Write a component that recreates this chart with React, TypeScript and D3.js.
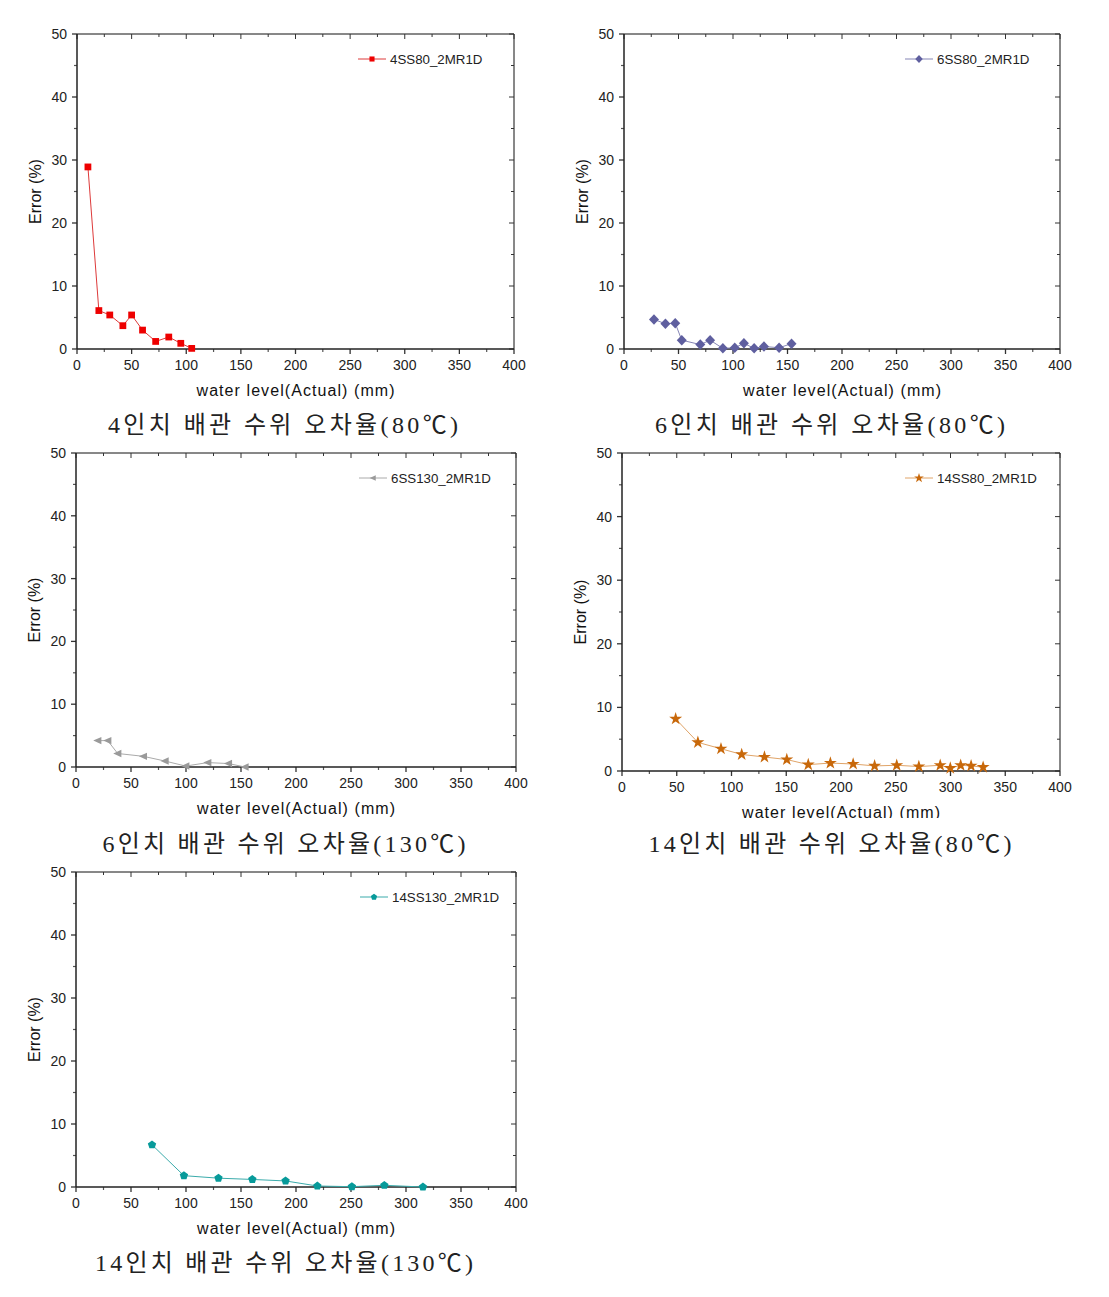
import React from "react";
import * as d3 from "d3";

// ---------- data ----------
const xTicks = [0, 50, 100, 150, 200, 250, 300, 350, 400];
const yTicks = [0, 10, 20, 30, 40, 50];

const s1x = [10, 20, 30, 42, 50, 60, 72, 84, 95, 105];
const s1y = [28.9, 6.1, 5.4, 3.7, 5.4, 3.0, 1.2, 1.9, 0.9, 0.1];

const s2x = [27.5, 38, 47, 53, 70, 79, 90.7, 101.6, 110, 119.4, 128.4, 142.3, 153.7];
const s2y = [4.7, 4.0, 4.1, 1.4, 0.7, 1.4, 0.1, 0.2, 0.9, 0.1, 0.4, 0.2, 0.85];

const s3x = [19.7, 28.8, 37.9, 61.2, 80.9, 99.7, 119.7, 138.5, 153.6];
const s3y = [4.2, 4.2, 2.15, 1.7, 0.95, 0.15, 0.7, 0.55, 0.0];

const s4x = [49, 69.3, 90.4, 109.3, 130.1, 150.5, 170.1, 190.3, 211.1, 230.7, 250.9, 271.1, 290.6, 299.8, 309.3, 318.8, 329.8];
const s4y = [8.2, 4.5, 3.5, 2.6, 2.2, 1.8, 1.0, 1.25, 1.1, 0.8, 0.9, 0.7, 0.9, 0.45, 0.9, 0.8, 0.6];

const s5x = [69.1, 98.1, 129.5, 160.3, 190.5, 219.4, 250.8, 280.3, 315.4];
const s5y = [6.7, 1.8, 1.4, 1.2, 0.96, 0.16, 0.05, 0.27, 0.0];

const seriesNames = ["4SS80_2MR1D", "6SS80_2MR1D", "6SS130_2MR1D", "14SS80_2MR1D", "14SS130_2MR1D"];
const captions = [
  "4인치 배관 수위 오차율(80℃)",
  "6인치 배관 수위 오차율(80℃)",
  "6인치 배관 수위 오차율(130℃)",
  "14인치 배관 수위 오차율(80℃)",
  "14인치 배관 수위 오차율(130℃)",
];
const xTitle = "water level(Actual) (mm)";
const yTitle = "Error (%)";

// ---------- symbols ----------
const pentagon = {
  draw(ctx: any, size: number) {
    const r = Math.sqrt(size / 2.378);
    for (let i = 0; i < 5; i++) {
      const a = -Math.PI / 2 + (i * 2 * Math.PI) / 5;
      const px = r * Math.cos(a);
      const py = r * Math.sin(a);
      if (i === 0) ctx.moveTo(px, py);
      else ctx.lineTo(px, py);
    }
    ctx.closePath();
  },
};
const leftTriangle = {
  draw(ctx: any, size: number) {
    const h = Math.sqrt(size) * 1.1;
    ctx.moveTo(-h * 0.6, 0);
    ctx.lineTo(h * 0.5, -h * 0.5);
    ctx.lineTo(h * 0.5, h * 0.5);
    ctx.closePath();
  },
};
const rhombus = {
  draw(ctx: any, size: number) {
    const r = Math.sqrt(size / 2) * 1.0;
    ctx.moveTo(0, -r * 1.05);
    ctx.lineTo(r, 0);
    ctx.lineTo(0, r * 1.05);
    ctx.lineTo(-r, 0);
    ctx.closePath();
  },
};

type Cfg = {
  xs: number[];
  ys: number[];
  name: string;
  caption: string;
  left: number;
  right: number;
  top: number;
  bottom: number;
  sym: any;
  symSize: number;
  mark: string;
  line: string;
  legX: number;
  capY: number;
  capW: number;
  capX: number;
  clipTitle?: number;
};

const panels: Cfg[] = [
  { xs: s1x, ys: s1y, name: seriesNames[0], caption: captions[0], left: 77, right: 514, top: 34, bottom: 349, sym: d3.symbolSquare, symSize: 46, mark: "#ee0000", line: "#dd3a3a", legX: 358, capY: 433, capW: 350, capX: 283 },
  { xs: s2x, ys: s2y, name: seriesNames[1], caption: captions[1], left: 624, right: 1060, top: 34, bottom: 349, sym: rhombus, symSize: 50, mark: "#5f5f9f", line: "#8585b5", legX: 905, capY: 433, capW: 350, capX: 830 },
  { xs: s3x, ys: s3y, name: seriesNames[2], caption: captions[2], left: 76, right: 516, top: 453, bottom: 767, sym: leftTriangle, symSize: 45, mark: "#9a9a9a", line: "#aaaaaa", legX: 359, capY: 852, capW: 363, capX: 284 },
  { xs: s4x, ys: s4y, name: seriesNames[3], caption: captions[3], left: 622, right: 1060, top: 453, bottom: 771, sym: d3.symbolStar, symSize: 52, mark: "#c8680a", line: "#e0a468", legX: 905, capY: 852, capW: 363, capX: 830, clipTitle: 818 },
  { xs: s5x, ys: s5y, name: seriesNames[4], caption: captions[4], left: 76, right: 516, top: 872, bottom: 1187, sym: pentagon, symSize: 46, mark: "#079a9a", line: "#3aabab", legX: 360, capY: 1271, capW: 378, capX: 284 },
];

const sans = "'Liberation Sans', Arial, sans-serif";
const capFont = "'Liberation Serif', 'Noto Sans CJK KR', serif";

function Panel({ c, idx }: { c: Cfg; idx: number }) {
  const x = d3.scaleLinear().domain([0, 400]).range([c.left, c.right]);
  const y = d3.scaleLinear().domain([0, 50]).range([c.bottom, c.top]);
  const lineGen = d3.line<number>().x((_, i) => x(c.xs[i])).y((d) => y(d));
  const symPath = d3.symbol().type(c.sym).size(c.symSize)() as string;
  const xMinor = d3.range(25, 400, 50);
  const yMinor = d3.range(5, 50, 10);
  const xAll = d3.range(0, 401, 25);
  const yAll = d3.range(0, 51, 5);
  const legY = c.top + 25;
  const clipId = `clip${idx}`;
  return (
    <g>
      {/* frame */}
      <line x1={c.left} x2={c.right} y1={c.top} y2={c.top} stroke="#111" strokeWidth={1} />
      <line x1={c.right} x2={c.right} y1={c.top} y2={c.bottom} stroke="#111" strokeWidth={1} />
      {/* top & right inward ticks */}
      {xAll.map((v) => (
        <line key={"tt" + v} x1={x(v)} x2={x(v)} y1={c.top} y2={c.top + (v % 50 === 0 ? 5 : 3)} stroke="#333" strokeWidth={1} />
      ))}
      {yAll.map((v) => (
        <line key={"rt" + v} x1={c.right} x2={c.right - (v % 10 === 0 ? 5 : 3)} y1={y(v)} y2={y(v)} stroke="#333" strokeWidth={1} />
      ))}
      {/* bottom axis */}
      {xTicks.map((v) => (
        <g key={"xb" + v}>
          <line x1={x(v)} x2={x(v)} y1={c.bottom} y2={c.bottom + 5} stroke="#333" strokeWidth={1.3} />
          <text x={x(v)} y={c.bottom + 21} fontFamily={sans} fontSize={14} fill="#222" textAnchor="middle">{v}</text>
        </g>
      ))}
      {xMinor.map((v) => (
        <line key={"xm" + v} x1={x(v)} x2={x(v)} y1={c.bottom} y2={c.bottom + 3} stroke="#555" strokeWidth={1.2} />
      ))}
      {/* left axis */}
      {yTicks.map((v) => (
        <g key={"yl" + v}>
          <line x1={c.left - 5} x2={c.left} y1={y(v)} y2={y(v)} stroke="#333" strokeWidth={1.3} />
          <text x={c.left - 10} y={y(v) + 5} fontFamily={sans} fontSize={14} fill="#222" textAnchor="end">{v}</text>
        </g>
      ))}
      {yMinor.map((v) => (
        <line key={"ym" + v} x1={c.left - 3} x2={c.left} y1={y(v)} y2={y(v)} stroke="#555" strokeWidth={1.2} />
      ))}
      <line x1={c.left} x2={c.right} y1={c.bottom} y2={c.bottom} stroke="#222" strokeWidth={1.5} />
      <line x1={c.left} x2={c.left} y1={c.top} y2={c.bottom} stroke="#222" strokeWidth={1.5} />
      {/* titles */}
      {c.clipTitle ? (
        <defs>
          <clipPath id={clipId}>
            <rect x={c.left - 60} y={c.bottom} width={c.right - c.left + 120} height={c.clipTitle - c.bottom} />
          </clipPath>
        </defs>
      ) : null}
      <text
        x={(c.left + c.right) / 2}
        y={c.bottom + 47}
        fontFamily={sans}
        fontSize={16}
        fill="#111"
        textAnchor="middle"
        textLength={198}
        lengthAdjust="spacing"
        clipPath={c.clipTitle ? `url(#${clipId})` : undefined}
      >
        {xTitle}
      </text>
      <text
        transform={`translate(${c.left - 36},${(c.top + c.bottom) / 2}) rotate(-90)`}
        fontFamily={sans}
        fontSize={16}
        fill="#111"
        textAnchor="middle"
      >
        {yTitle}
      </text>
      {/* series */}
      <path d={lineGen(c.ys) as string} fill="none" stroke={c.line} strokeWidth={1} />
      {c.ys.map((v, i) => (
        <path key={"p" + i} d={symPath} transform={`translate(${x(c.xs[i])},${y(v)})`} fill={c.mark} />
      ))}
      {/* legend */}
      <line x1={c.legX} x2={c.legX + 28} y1={legY} y2={legY} stroke={c.line} strokeWidth={1} />
      <path d={symPath} transform={`translate(${c.legX + 14},${legY}) scale(0.75)`} fill={c.mark} />
      <text x={c.legX + 32} y={legY + 4.5} fontFamily={sans} fontSize={13.3} fill="#222">{c.name}</text>
      {/* caption */}
      <text
        x={c.capX}
        y={c.capY}
        fontFamily={capFont}
        fontSize={24}
        fill="#222"
        textAnchor="middle"
        textLength={c.capW}
        lengthAdjust="spacing"
      >
        {c.caption}
      </text>
    </g>
  );
}

export default function App() {
  return (
    <svg
      width={1109}
      height={1297}
      style={{ position: "absolute", left: 0, top: 0, background: "#fff" }}
    >
      <rect width={1109} height={1297} fill="#fff" />
      {panels.map((c, i) => (
        <Panel key={i} c={c} idx={i} />
      ))}
    </svg>
  );
}
